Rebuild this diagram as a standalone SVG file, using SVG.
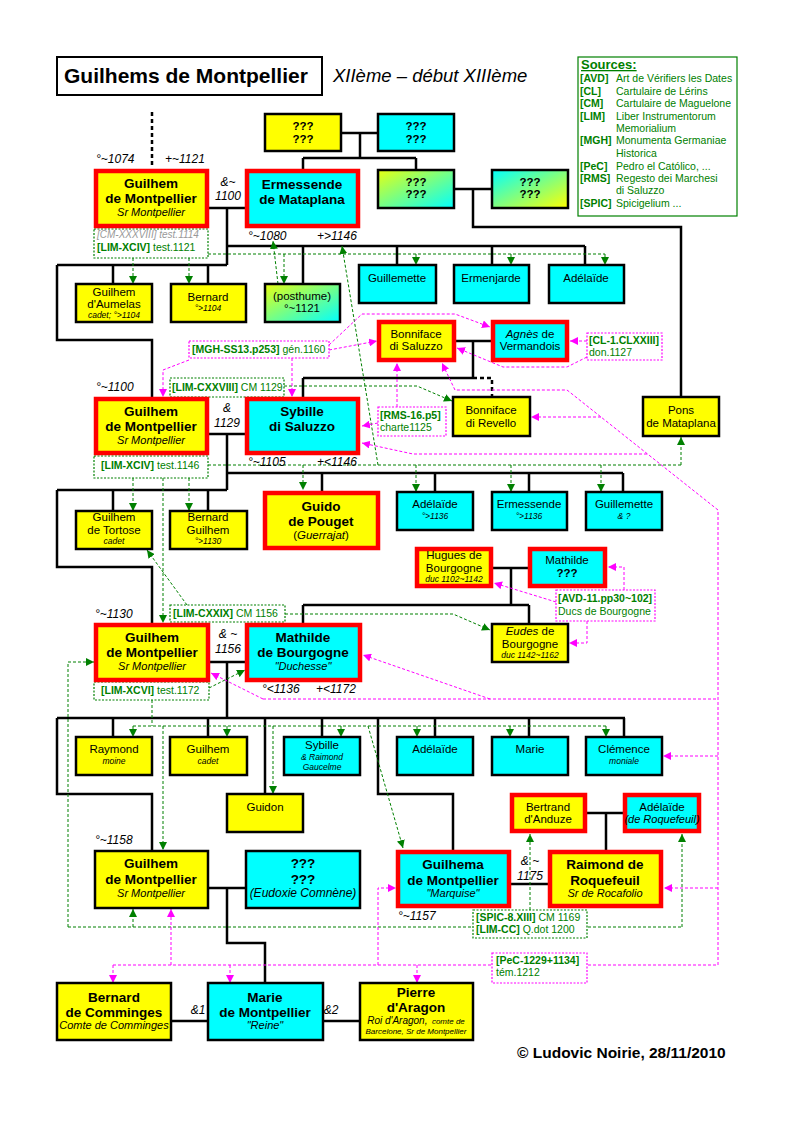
<svg xmlns="http://www.w3.org/2000/svg" width="794" height="1123" viewBox="0 0 794 1123">
<style>
text{font-family:"Liberation Sans",Arial,sans-serif;fill:#000}
.m{text-anchor:middle}
.big{font-size:13.5px;font-weight:bold}
.sm{font-size:11.5px}
.sub{font-size:11px;font-style:italic}
.tiny{font-size:8.5px;font-style:italic}
.date{font-size:12px;font-style:italic}
.src{font-size:10.5px;fill:#008000}
.b{font-weight:bold}
.yel{fill:#ffff00}.cya{fill:#00ffff}
.bk{stroke:#000;stroke-width:2.5}
.rd{stroke:#ff0000;stroke-width:4.5}
.ln{fill:none;stroke:#000;stroke-width:2.5}
.dl{fill:none;stroke:#000;stroke-width:2.5;stroke-dasharray:4 3}
.gd{fill:none;stroke:#008000;stroke-width:1;stroke-dasharray:3 2}
.md{fill:none;stroke:#ff00ff;stroke-width:1;stroke-dasharray:3 2}
.gbox{fill:#fff;stroke:#008000;stroke-width:1.2;stroke-dasharray:2 1.5}
.mbox{fill:#fff;stroke:#ff00ff;stroke-width:1.2;stroke-dasharray:2 1.5}
.ga{marker-end:url(#ag)}.ma{marker-end:url(#am)}
</style>
<defs>
<marker id="ag" viewBox="0 0 10 10" refX="10" refY="5" markerWidth="8" markerHeight="8" markerUnits="userSpaceOnUse" orient="auto"><path d="M0,0 L10,5 L0,10 z" fill="#008000"/></marker>
<marker id="am" viewBox="0 0 10 10" refX="10" refY="5" markerWidth="8" markerHeight="8" markerUnits="userSpaceOnUse" orient="auto"><path d="M0,0 L10,5 L0,10 z" fill="#ff00ff"/></marker>
<linearGradient id="gyc" x1="0" y1="0" x2="1" y2="1"><stop offset="0" stop-color="#e8ff10"/><stop offset="1" stop-color="#00ffff"/></linearGradient>
<linearGradient id="gcy" x1="0" y1="0" x2="1" y2="1"><stop offset="0" stop-color="#00ffff"/><stop offset="1" stop-color="#ffff00"/></linearGradient>
</defs>
<rect width="794" height="1123" fill="#fff"/>

<g id="title">
<rect x="57" y="57" width="265" height="38" fill="#fff" stroke="#000" stroke-width="2"/>
<text x="64" y="83" font-size="21" font-weight="bold">Guilhems de Montpellier</text>
<text x="333" y="82" font-size="18.5" font-style="italic">XIIème – début XIIIème</text>
</g>

<g id="sources">
<rect x="578" y="57" width="159" height="159" fill="#fff" stroke="#008000" stroke-width="1.2"/>
<text x="581" y="69" font-size="13" font-weight="bold" text-decoration="underline" style="fill:#008000">Sources:</text>
<text x="580" y="82" class="src b">[AVD]</text><text x="616" y="82" class="src">Art de Vérifiers les Dates</text>
<text x="580" y="95" class="src b">[CL]</text><text x="616" y="95" class="src">Cartulaire de Lérins</text>
<text x="580" y="107" class="src b">[CM]</text><text x="616" y="107" class="src">Cartulaire de Maguelone</text>
<text x="580" y="120" class="src b">[LIM]</text><text x="616" y="120" class="src">Liber Instrumentorum</text>
<text x="616" y="132" class="src">Memorialium</text>
<text x="580" y="144" class="src b">[MGH]</text><text x="616" y="144" class="src">Monumenta Germaniae</text>
<text x="616" y="157" class="src">Historica</text>
<text x="580" y="170" class="src b">[PeC]</text><text x="616" y="170" class="src">Pedro el Católico, ...</text>
<text x="580" y="182" class="src b">[RMS]</text><text x="616" y="182" class="src">Regesto dei Marchesi</text>
<text x="616" y="194" class="src">di Saluzzo</text>
<text x="580" y="207" class="src b">[SPIC]</text><text x="616" y="207" class="src">Spicigelium ...</text>
</g>

<g id="connectors">
<path class="dl" d="M152,112 V168 M473,378 H492 V397"/>
<path class="ln" d="M341,133 H378 M360,133 V158 M303,158 H416 M303,158 V169 M416,158 V170
M454,189 H492 M473,189 V227 H681 V397
M209,208 H245 M227,208 V265 M57,265 H227 M227,246 H585 M113,265 V284 M208,265 V284 M303,246 V284 M397,246 V265 M492,246 V265 M585,246 V265 M57,265 V340 H152 V397
M456,341 H491 M473,341 V378 M303,378 H473 M303,378 V397
M209,434 H245 M227,434 V490 M227,473 H623 M57,490 H227 M113,490 V511 M208,490 V511 M322,473 V491 M435,473 V492 M529,473 V492 M623,473 V492 M57,490 V567 H152 V623
M493,568 H528 M511,568 V605 M303,605 H529 M303,605 V623 M529,605 V624
M210,662 H245 M227,662 V718 M57,718 H625 M113,718 V737 M208,718 V737 M265,718 V794 M322,718 V737 M435,718 V737 M529,718 V737 M624,718 V737 M57,718 V794 H152 V850 M378,718 V794 H453 V850
M587,813 H623 M606,813 V850 M511,884 H548
M208,888 H246 M227,888 V943 H265 V983
M171,1021 H208 M323,1021 H360"/>
<path class="gd" d="M208,254 H605 M208,465 H681 M152,700 V726 M133,726 H606 M68,927 H682"/>
<path class="gd ga" d="M133,258 V284"/>
<path class="gd ga" d="M189,258 V284"/>
<path class="gd ga" d="M416,254 V265"/>
<path class="gd ga" d="M511,254 V265"/>
<path class="gd ga" d="M605,254 V265"/>
<path class="gd ga" d="M284,254 V284"/>
<path class="gd ga" d="M278,284 L273,241"/>
<path class="gd ga" d="M378,465 L342,246"/>
<path class="gd ga" d="M681,465 V437"/>
<path class="gd ga" d="M133,478 V511"/>
<path class="gd ga" d="M189,478 V511"/>
<path class="gd ga" d="M303,465 V490"/>
<path class="gd ga" d="M416,465 V492"/>
<path class="gd ga" d="M511,465 V492"/>
<path class="gd ga" d="M601,465 V492"/>
<path class="gd ga" d="M163,478 V623"/>
<path class="gd ga" d="M284,386 H417 L452,401"/>
<path class="gd ga" d="M187,605 L147,550"/>
<path class="gd ga" d="M285,614 H453 L490,630"/>
<path class="gd ga" d="M209,688 L245,670"/>
<path class="gd ga" d="M133,726 V737"/>
<path class="gd ga" d="M227,726 V737"/>
<path class="gd ga" d="M341,726 V737"/>
<path class="gd ga" d="M417,726 V737"/>
<path class="gd ga" d="M510,726 V737"/>
<path class="gd ga" d="M606,726 V737"/>
<path class="gd ga" d="M163,726 V850"/>
<path class="gd ga" d="M273,726 V794"/>
<path class="gd ga" d="M368,726 L403,848"/>
<path class="gd ga" d="M68,927 V662 H94"/>
<path class="gd ga" d="M133,927 V909"/>
<path class="gd ga" d="M682,927 V834"/>
<path class="gd ga" d="M530,910 V834"/>
<path class="md" d="M718,965 V510 L567,390 H455 M113,965 H718 M263,699 H718"/>
<path class="md ma" d="M329,350 L377,341"/>
<path class="md ma" d="M329,345 L362,314 H455 L490,327"/>
<path class="md ma" d="M189,360 L163,370 V397"/>
<path class="md ma" d="M292,358 V397"/>
<path class="md ma" d="M587,341 H570"/>
<path class="md ma" d="M587,357 L567,367 H503 L457,348"/>
<path class="md ma" d="M397,407 V363"/>
<path class="md ma" d="M378,423 L362,426"/>
<path class="md ma" d="M455,390 L442,363"/>
<path class="md ma" d="M647,454 H413 L362,443"/>
<path class="md ma" d="M601,417 H531"/>
<path class="md ma" d="M556,602 L494,583"/>
<path class="md ma" d="M624,590 V567 H608"/>
<path class="md ma" d="M587,621 V643 H569"/>
<path class="md ma" d="M490,699 L363,655"/>
<path class="md ma" d="M263,699 L211,673"/>
<path class="md ma" d="M718,756 H663"/>
<path class="md ma" d="M718,888 H664"/>
<path class="md ma" d="M378,965 V888 H396"/>
<path class="md ma" d="M171,965 V909"/>
<path class="md ma" d="M113,965 V983"/>
<path class="md ma" d="M230,965 V983"/>
<path class="md ma" d="M417,965 V983"/>
</g>

<g id="labels">
<text x="96" y="163" class="date">°~1074</text>
<text x="165" y="163" class="date">+~1121</text>
<text x="228" y="186" class="date m">&amp;~</text>
<text x="228" y="200" class="date m">1100</text>
<text x="248" y="240" class="date">°~1080</text>
<text x="317" y="240" class="date">+&gt;1146</text>
<text x="96" y="391" class="date">°~1100</text>
<text x="227" y="412" class="date m">&amp;</text>
<text x="227" y="427" class="date m">1129</text>
<text x="248" y="466" class="date">°~1105</text>
<text x="317" y="466" class="date">+&lt;1146</text>
<text x="95" y="618" class="date">°~1130</text>
<text x="228" y="638" class="date m">&amp; ~</text>
<text x="228" y="653" class="date m">1156</text>
<text x="262" y="693" class="date">°&lt;1136</text>
<text x="316" y="693" class="date">+&lt;1172</text>
<text x="95" y="844" class="date">°~1158</text>
<text x="398" y="920" class="date">°~1157</text>
<text x="530" y="865" class="date m">&amp; ~</text>
<text x="530" y="880" class="date m">1175</text>
<text x="198" y="1014" class="date m">&amp;1</text>
<text x="331" y="1014" class="date m">&amp;2</text>
<text x="517" y="1058" font-size="15.5" font-weight="bold">© Ludovic Noirie, 28/11/2010</text>
</g>

<g id="src-cm1"><rect x="94" y="229" width="114" height="29" class="gbox"/>
<text x="97" y="238" font-size="10" font-style="italic" style="fill:#999">[CM-XXXVIII] test.1114</text>
<text x="97" y="251" class="src"><tspan class="b">[LIM-XCIV]</tspan> test.1121</text></g>
<g id="src-mgh"><rect x="189" y="341" width="140" height="17" class="mbox"/>
<text x="192" y="353" class="src"><tspan class="b">[MGH-SS13.p253]</tspan> gén.1160</text></g>
<g id="src-cl"><rect x="587" y="333" width="75" height="27" class="mbox"/>
<text x="589" y="344" class="src b">[CL-1.CLXXIII]</text><text x="589" y="356" class="src">don.1127</text></g>
<g id="src-lim128"><rect x="170" y="378" width="114" height="19" class="gbox"/>
<text x="172" y="391" class="src"><tspan class="b">[LIM-CXXVIII]</tspan> CM 1129</text></g>
<g id="src-rms"><rect x="378" y="407" width="68" height="29" class="mbox"/>
<text x="380" y="419" class="src b">[RMS-16.p5]</text><text x="380" y="431" class="src">charte1125</text></g>
<g id="src-lim94"><rect x="94" y="456" width="114" height="22" class="gbox"/>
<text x="101" y="469" class="src"><tspan class="b">[LIM-XCIV]</tspan> test.1146</text></g>
<g id="src-avd"><rect x="556" y="590" width="99" height="31" class="mbox"/>
<text x="558" y="602" class="src b">[AVD-11.pp30~102]</text><text x="558" y="615" class="src">Ducs de Bourgogne</text></g>
<g id="src-lim129"><rect x="170" y="605" width="115" height="17" class="gbox"/>
<text x="173" y="617" class="src"><tspan class="b">[LIM-CXXIX]</tspan> CM 1156</text></g>
<g id="src-lim96"><rect x="94" y="682" width="115" height="18" class="gbox"/>
<text x="101" y="694" class="src"><tspan class="b">[LIM-XCVI]</tspan> test.1172</text></g>
<g id="src-spic"><rect x="473" y="910" width="114" height="28" class="gbox"/>
<text x="476" y="921" class="src"><tspan class="b">[SPIC-8.XIII]</tspan> CM 1169</text>
<text x="476" y="933" class="src"><tspan class="b">[LIM-CC]</tspan> Q.dot 1200</text></g>
<g id="src-pec"><rect x="492" y="953" width="95" height="30" class="mbox"/>
<text x="496" y="964" class="src b">[PeC-1229+1134]</text><text x="496" y="976" class="src">tém.1212</text></g>

<g id="q1"><rect x="265" y="114" width="76" height="37" class="yel bk"/><text x="303" y="130" class="sm m b">???</text><text x="303" y="143" class="sm m b">???</text></g>
<g id="q2"><rect x="378" y="114" width="76" height="37" class="cya bk"/><text x="416" y="130" class="sm m b">???</text><text x="416" y="143" class="sm m b">???</text></g>
<g id="q3"><rect x="378" y="170" width="76" height="38" fill="url(#gyc)" class="bk"/><text x="416" y="186" class="sm m b">???</text><text x="416" y="198" class="sm m b">???</text></g>
<g id="q4"><rect x="492" y="170" width="76" height="38" fill="url(#gcy)" class="bk"/><text x="530" y="186" class="sm m b">???</text><text x="530" y="198" class="sm m b">???</text></g>

<g id="g1"><rect x="96" y="171" width="111" height="55" class="yel rd"/>
<text x="151" y="188" class="big m">Guilhem</text><text x="151" y="203" class="big m">de Montpellier</text><text x="151" y="216" class="sub m">Sr Montpellier</text></g>
<g id="ermessende1"><rect x="247" y="171" width="111" height="55" class="cya rd"/>
<text x="302" y="189" class="big m">Ermessende</text><text x="302" y="204" class="big m">de Mataplana</text></g>

<g id="aumelas"><rect x="76" y="284" width="76" height="38" class="yel bk"/>
<text x="114" y="296" class="sm m">Guilhem</text><text x="114" y="308" class="sm m">d'Aumelas</text><text x="114" y="318" class="tiny m">cadet; °&gt;1104</text></g>
<g id="bernard1"><rect x="171" y="284" width="75" height="38" class="yel bk"/>
<text x="208" y="301" class="sm m">Bernard</text><text x="208" y="311" class="tiny m">°&gt;1104</text></g>
<g id="posthume"><rect x="265" y="284" width="75" height="38" fill="url(#gyc)" class="bk"/>
<text x="302" y="300" class="sm m">(posthume)</text><text x="302" y="312" class="sm m">°~1121</text></g>
<g id="guillemette1"><rect x="359" y="265" width="77" height="38" class="cya bk"/><text x="397" y="282" class="sm m">Guillemette</text></g>
<g id="ermenjarde"><rect x="454" y="265" width="75" height="38" class="cya bk"/><text x="491" y="282" class="sm m">Ermenjarde</text></g>
<g id="adelaide1"><rect x="549" y="265" width="75" height="38" class="cya bk"/><text x="586" y="282" class="sm m">Adélaïde</text></g>

<g id="bonniface-saluzzo"><rect x="379" y="322" width="75" height="38" class="yel rd"/>
<text x="416" y="338" class="sm m">Bonniface</text><text x="416" y="350" class="sm m">di Saluzzo</text></g>
<g id="agnes"><rect x="493" y="322" width="74" height="38" class="cya rd"/>
<text x="530" y="338" class="sm m"><tspan font-style="italic">Agnès</tspan> de</text><text x="530" y="350" class="sm m">Vermandois</text></g>

<g id="g2"><rect x="96" y="399" width="111" height="54" class="yel rd"/>
<text x="151" y="416" class="big m">Guilhem</text><text x="151" y="431" class="big m">de Montpellier</text><text x="151" y="444" class="sub m">Sr Montpellier</text></g>
<g id="sybille"><rect x="247" y="399" width="111" height="54" class="cya rd"/>
<text x="302" y="416" class="big m">Sybille</text><text x="302" y="431" class="big m">di Saluzzo</text></g>
<g id="bonniface-revello"><rect x="453" y="397" width="77" height="39" class="yel bk"/>
<text x="491" y="414" class="sm m">Bonniface</text><text x="491" y="427" class="sm m">di Revello</text></g>
<g id="pons"><rect x="643" y="397" width="76" height="39" class="yel bk"/>
<text x="681" y="414" class="sm m">Pons</text><text x="681" y="427" class="sm m">de Mataplana</text></g>

<g id="tortose"><rect x="76" y="511" width="76" height="38" class="yel bk"/>
<text x="114" y="521" class="sm m">Guilhem</text><text x="114" y="534" class="sm m">de Tortose</text><text x="114" y="544" class="tiny m">cadet</text></g>
<g id="bernard-guilhem"><rect x="170" y="511" width="77" height="38" class="yel bk"/>
<text x="208" y="521" class="sm m">Bernard</text><text x="208" y="534" class="sm m">Guilhem</text><text x="208" y="544" class="tiny m">°&gt;1130</text></g>
<g id="guido"><rect x="265" y="493" width="113" height="55" class="yel rd"/>
<text x="321" y="511" class="big m" font-size="14">Guido</text><text x="321" y="526" class="big m">de Pouget</text><text x="321" y="539" class="sm m">(<tspan font-style="italic">Guerrajat</tspan>)</text></g>
<g id="adelaide2"><rect x="397" y="492" width="76" height="38" class="cya bk"/>
<text x="435" y="508" class="sm m">Adélaïde</text><text x="435" y="519" class="tiny m">°&gt;1136</text></g>
<g id="ermessende2"><rect x="492" y="492" width="75" height="38" class="cya bk"/>
<text x="529" y="508" class="sm m">Ermessende</text><text x="529" y="519" class="tiny m">°&gt;1136</text></g>
<g id="guillemette2"><rect x="586" y="492" width="76" height="38" class="cya bk"/>
<text x="624" y="508" class="sm m">Guillemette</text><text x="624" y="519" class="tiny m">&amp; ?</text></g>

<g id="hugues"><rect x="417" y="549" width="74" height="37" class="yel rd"/>
<text x="454" y="559" class="sm m">Hugues de</text><text x="454" y="572" class="sm m">Bourgogne</text><text x="454" y="582" class="tiny m">duc 1102~1142</text></g>
<g id="mathilde0"><rect x="530" y="549" width="75" height="37" class="cya rd"/>
<text x="567" y="564" class="sm m">Mathilde</text><text x="567" y="577" class="sm m b">???</text></g>
<g id="eudes"><rect x="492" y="624" width="76" height="38" class="yel bk"/>
<text x="530" y="635" class="sm m"><tspan font-style="italic">Eudes</tspan> de</text><text x="530" y="648" class="sm m">Bourgogne</text><text x="530" y="658" class="tiny m">duc 1142~1162</text></g>

<g id="g3"><rect x="96" y="625" width="112" height="55" class="yel rd"/>
<text x="152" y="642" class="big m">Guilhem</text><text x="152" y="657" class="big m">de Montpellier</text><text x="152" y="670" class="sub m">Sr Montpellier</text></g>
<g id="mathilde-bourgogne"><rect x="247" y="625" width="113" height="55" class="cya rd"/>
<text x="303" y="642" class="big m">Mathilde</text><text x="303" y="657" class="big m">de Bourgogne</text><text x="303" y="670" class="sub m">"Duchesse"</text></g>

<g id="raymond"><rect x="76" y="737" width="76" height="38" class="yel bk"/>
<text x="114" y="753" class="sm m">Raymond</text><text x="114" y="764" class="tiny m">moine</text></g>
<g id="guilhem-cadet"><rect x="170" y="737" width="77" height="38" class="yel bk"/>
<text x="208" y="753" class="sm m">Guilhem</text><text x="208" y="764" class="tiny m">cadet</text></g>
<g id="sybille2"><rect x="284" y="737" width="76" height="38" class="cya bk"/>
<text x="322" y="749" class="sm m">Sybille</text><text x="322" y="760" class="tiny m">&amp; Raimond</text><text x="322" y="770" class="tiny m">Gaucelme</text></g>
<g id="adelaide3"><rect x="397" y="737" width="76" height="38" class="cya bk"/><text x="435" y="753" class="sm m">Adélaïde</text></g>
<g id="marie3"><rect x="492" y="737" width="76" height="38" class="cya bk"/><text x="530" y="753" class="sm m">Marie</text></g>
<g id="clemence"><rect x="586" y="737" width="76" height="38" class="cya bk"/>
<text x="624" y="753" class="sm m">Clémence</text><text x="624" y="764" class="tiny m">moniale</text></g>
<g id="guidon"><rect x="227" y="794" width="76" height="38" class="yel bk"/><text x="265" y="811" class="sm m">Guidon</text></g>

<g id="bertrand"><rect x="512" y="795" width="73" height="36" class="yel rd"/>
<text x="548" y="811" class="sm m">Bertrand</text><text x="548" y="823" class="sm m">d'Anduze</text></g>
<g id="adelaide-roquefeuil"><rect x="625" y="795" width="74" height="36" class="cya rd"/>
<text x="662" y="811" class="sm m">Adélaïde</text><text x="662" y="823" class="sub m">(de Roquefeuil)</text></g>

<g id="g4"><rect x="95" y="851" width="113" height="57" class="yel bk"/>
<text x="151" y="868" class="big m">Guilhem</text><text x="151" y="884" class="big m">de Montpellier</text><text x="151" y="897" class="sub m">Sr Montpellier</text></g>
<g id="eudoxie"><rect x="246" y="851" width="114" height="57" class="cya bk"/>
<text x="303" y="868" class="big m">???</text><text x="303" y="884" class="big m">???</text><text x="303" y="897" font-size="12" font-style="italic" class="m">(Eudoxie Comnène)</text></g>
<g id="guilhema"><rect x="398" y="852" width="111" height="54" class="cya rd"/>
<text x="453" y="869" class="big m">Guilhema</text><text x="453" y="885" class="big m">de Montpellier</text><text x="453" y="897" class="sub m">"Marquise"</text></g>
<g id="raimond"><rect x="550" y="852" width="111" height="54" class="yel rd"/>
<text x="605" y="869" class="big m">Raimond de</text><text x="605" y="885" class="big m">Roquefeuil</text><text x="605" y="897" class="sub m">Sr de Rocafolio</text></g>

<g id="bernard-comminges"><rect x="57" y="983" width="114" height="57" class="yel bk"/>
<text x="114" y="1002" class="big m">Bernard</text><text x="114" y="1017" class="big m">de Comminges</text><text x="114" y="1029" class="sub m">Comte de Comminges</text></g>
<g id="marie"><rect x="208" y="983" width="115" height="57" class="cya bk"/>
<text x="265" y="1002" class="big m">Marie</text><text x="265" y="1017" class="big m">de Montpellier</text><text x="265" y="1029" class="sub m">"Reine"</text></g>
<g id="pierre"><rect x="360" y="983" width="113" height="57" class="yel bk"/>
<text x="416" y="997" class="big m">Pierre</text><text x="416" y="1012" class="big m">d'Aragon</text>
<text x="416" y="1024" class="m" font-style="italic"><tspan font-size="10">Roi d'Aragon,</tspan> <tspan font-size="8">comte de</tspan></text>
<text x="416" y="1034" class="m" font-style="italic" font-size="8">Barcelone, Sr de Montpellier</text></g>
</svg>
